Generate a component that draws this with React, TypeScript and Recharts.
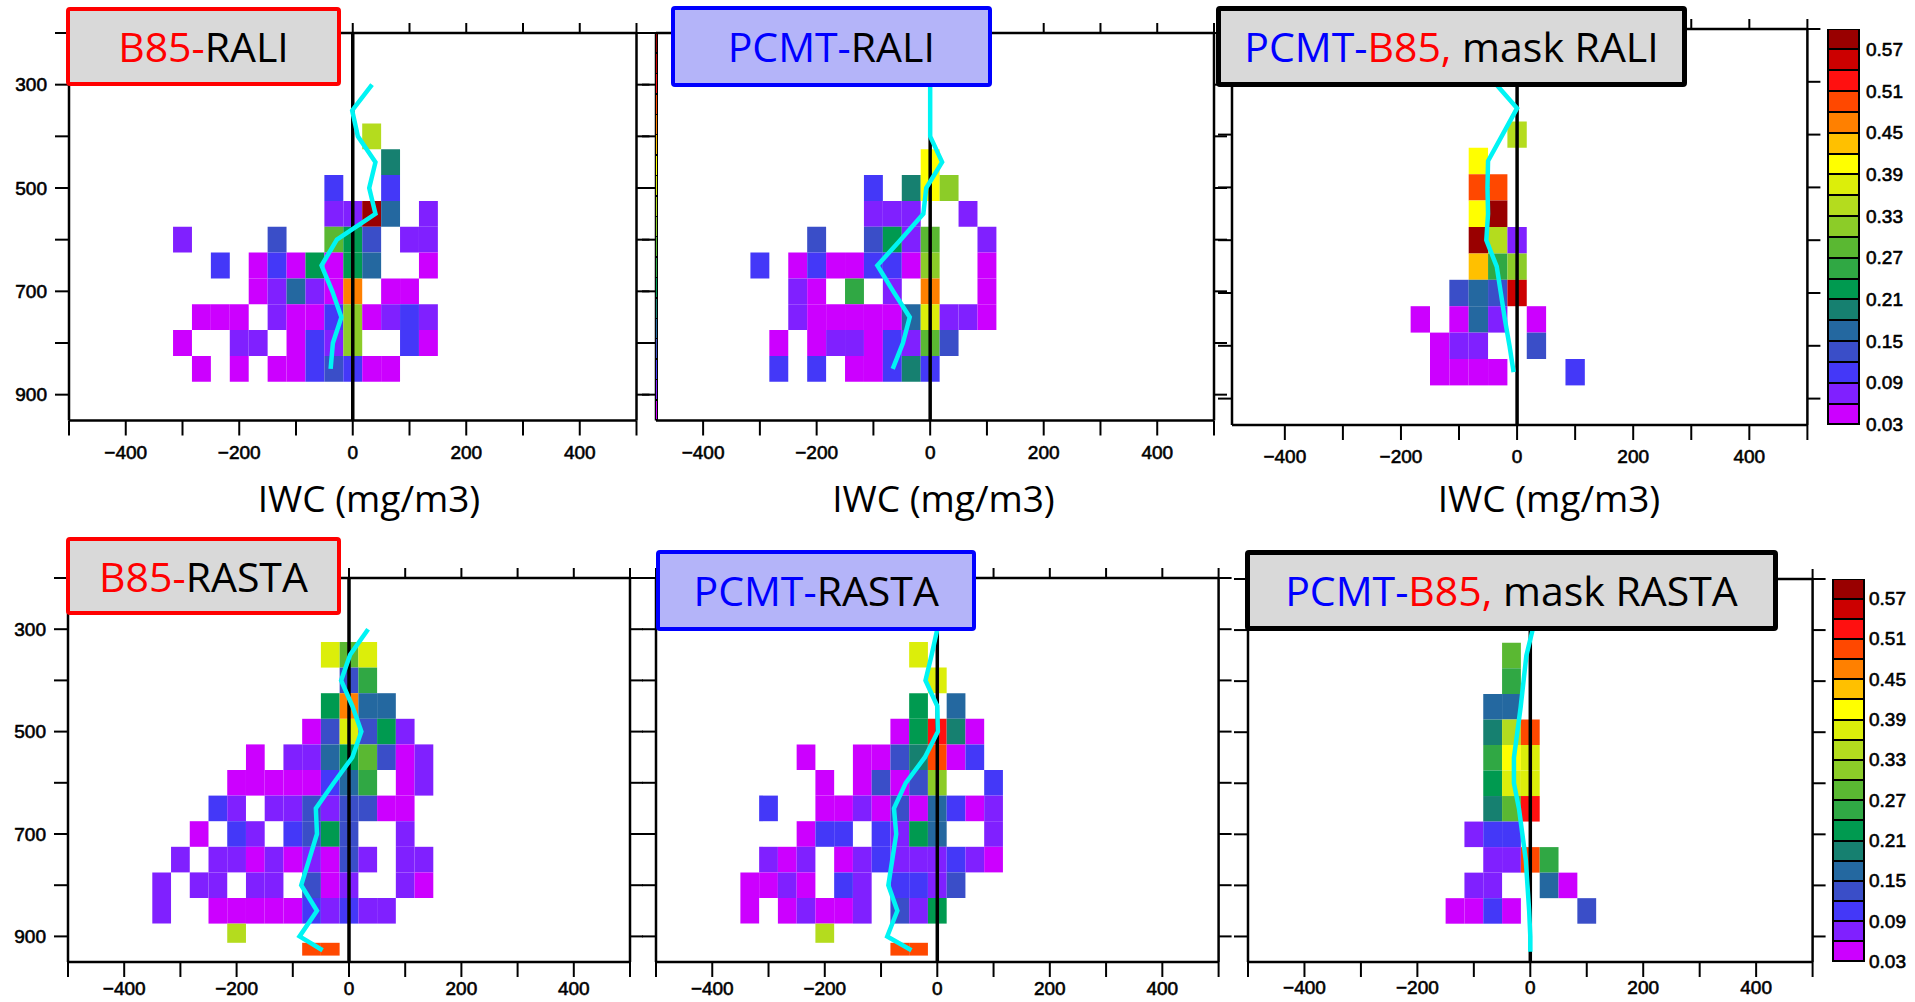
import React from 'react';
import { ScatterChart, Scatter, XAxis, YAxis, ReferenceArea, ReferenceLine } from 'recharts';

// ---------- colour scale ----------
const levelLabels = [0.03, 0.09, 0.15, 0.21, 0.27, 0.33, 0.39, 0.45, 0.51, 0.57];
const levelMin = 0.03;
const levelStep = 0.03;
const levelColors = [
  '#cc00ff', '#8020ff', '#4438f8', '#3a4ec8', '#2468a0', '#168070', '#009a50', '#30a844',
  '#5ab832', '#8ccc28', '#b4dc1e', '#dcee0a', '#ffff00', '#ffc000', '#ff8000', '#ff4800',
  '#ff1010', '#cc0000', '#990000',
];

// ---------- bins ----------
const iwcBinWidth = 100 / 3; // mg/m3
const pressureBins = [
  { p: 350, lo: 325, hi: 375 }, { p: 400, lo: 375, hi: 425 }, { p: 450, lo: 425, hi: 475 },
  { p: 500, lo: 475, hi: 525 }, { p: 550, lo: 525, hi: 575 }, { p: 600, lo: 575, hi: 625 },
  { p: 650, lo: 625, hi: 675 }, { p: 700, lo: 675, hi: 725 }, { p: 750, lo: 725, hi: 775 },
  { p: 800, lo: 775, hi: 825 }, { p: 850, lo: 825, hi: 875 }, { p: 894, lo: 875, hi: 912.5 },
  { p: 925, lo: 912.5, hi: 937.5 },
];
const xTicksAll = [-500, -400, -300, -200, -100, 0, 100, 200, 300, 400, 500];
const yTicksAll = [200, 300, 400, 500, 600, 700, 800, 900];
const yLabelTicks = [300, 500, 700, 900];

// ---------- cells: [iwc bin index, pressure bin centre, frequency] ----------
type Cell = [number, number, number];
const cellsB85Rali: Cell[] = [
  [1, 400, .34],
  [2, 450, .19],
  [-1, 500, .10], [2, 500, .10],
  [-1, 550, .07], [0, 550, .07], [1, 550, .58], [2, 550, .16], [4, 550, .07],
  [-9, 600, .07], [-4, 600, .13], [-1, 600, .28], [0, 600, .22], [1, 600, .13], [3, 600, .07], [4, 600, .07],
  [-7, 650, .10], [-5, 650, .04], [-4, 650, .10], [-3, 650, .04], [-2, 650, .22], [-1, 650, .04], [0, 650, .22], [1, 650, .16], [4, 650, .04],
  [-5, 700, .04], [-4, 700, .07], [-3, 700, .16], [-2, 700, .07], [-1, 700, .04], [0, 700, .46], [2, 700, .04], [3, 700, .04],
  [-8, 750, .04], [-7, 750, .04], [-6, 750, .04], [-4, 750, .07], [-3, 750, .04], [-2, 750, .04], [-1, 750, .10], [0, 750, .31], [1, 750, .04], [2, 750, .07], [3, 750, .10], [4, 750, .07],
  [-9, 800, .04], [-6, 800, .07], [-5, 800, .07], [-3, 800, .04], [-2, 800, .10], [-1, 800, .07], [0, 800, .31], [3, 800, .10], [4, 800, .04],
  [-8, 850, .04], [-6, 850, .04], [-4, 850, .04], [-3, 850, .04], [-2, 850, .10], [-1, 850, .13], [0, 850, .10], [1, 850, .04], [2, 850, .04],
];
const cellsPcmtRali: Cell[] = [
  [0, 450, .40],
  [-3, 500, .10], [-1, 500, .19], [0, 500, .40], [1, 500, .31],
  [-3, 550, .07], [-2, 550, .07], [-1, 550, .07], [2, 550, .07],
  [-6, 600, .13], [-3, 600, .13], [-2, 600, .22], [-1, 600, .07], [0, 600, .28], [3, 600, .07],
  [-9, 650, .10], [-7, 650, .04], [-6, 650, .10], [-5, 650, .04], [-4, 650, .04], [-3, 650, .10], [-2, 650, .10], [-1, 650, .04], [0, 650, .31], [3, 650, .04],
  [-7, 700, .07], [-6, 700, .04], [-4, 700, .25], [-2, 700, .07], [0, 700, .46], [3, 700, .04],
  [-7, 750, .07], [-6, 750, .04], [-5, 750, .04], [-4, 750, .04], [-3, 750, .04], [-2, 750, .04], [-1, 750, .16], [0, 750, .37], [1, 750, .07], [2, 750, .07], [3, 750, .04],
  [-8, 800, .04], [-6, 800, .04], [-5, 800, .07], [-4, 800, .07], [-3, 800, .04], [-2, 800, .10], [-1, 800, .07], [0, 800, .28], [1, 800, .13],
  [-8, 850, .10], [-6, 850, .10], [-4, 850, .04], [-3, 850, .04], [-2, 850, .10], [-1, 850, .19], [0, 850, .10],
];
const cellsDiffRali: Cell[] = [
  [0, 400, .34],
  [-2, 450, .40],
  [-2, 500, .49], [-1, 500, .49],
  [-2, 550, .40], [-1, 550, .58],
  [-2, 600, .58], [-1, 600, .34], [0, 600, .07],
  [-2, 650, .43], [-1, 650, .25], [0, 650, .31],
  [-3, 700, .13], [-2, 700, .16], [-1, 700, .13], [0, 700, .55],
  [-5, 750, .04], [-3, 750, .04], [-2, 750, .16], [-1, 750, .07], [1, 750, .04],
  [-4, 800, .04], [-3, 800, .07], [-2, 800, .07], [1, 800, .13],
  [-4, 850, .04], [-3, 850, .04], [-2, 850, .04], [-1, 850, .04], [3, 850, .10],
];
const cellsB85Rasta: Cell[] = [
  [-1, 350, .37], [0, 350, .28], [1, 350, .37],
  [0, 400, .13], [1, 400, .25],
  [-1, 450, .22], [0, 450, .46], [1, 450, .16], [2, 450, .16],
  [-2, 500, .04], [-1, 500, .13], [0, 500, .37], [1, 500, .13], [2, 500, .22], [3, 500, .07],
  [-5, 550, .04], [-3, 550, .07], [-2, 550, .07], [-1, 550, .16], [0, 550, .22], [1, 550, .28], [2, 550, .13], [3, 550, .04], [4, 550, .07],
  [-6, 600, .04], [-5, 600, .04], [-4, 600, .04], [-3, 600, .04], [-2, 600, .04], [-1, 600, .10], [0, 600, .16], [1, 600, .25], [3, 600, .04], [4, 600, .07],
  [-7, 650, .10], [-6, 650, .07], [-4, 650, .07], [-3, 650, .07], [-2, 650, .13], [-1, 650, .07], [0, 650, .13], [1, 650, .13], [2, 650, .04], [3, 650, .04],
  [-8, 700, .04], [-6, 700, .10], [-5, 700, .07], [-3, 700, .10], [-2, 700, .13], [-1, 700, .22], [0, 700, .13], [3, 700, .07],
  [-9, 750, .07], [-7, 750, .07], [-6, 750, .07], [-5, 750, .04], [-4, 750, .07], [-3, 750, .04], [-2, 750, .07], [-1, 750, .04], [0, 750, .13], [1, 750, .07], [3, 750, .07], [4, 750, .07],
  [-10, 800, .07], [-8, 800, .07], [-7, 800, .07], [-5, 800, .07], [-4, 800, .07], [-2, 800, .13], [-1, 800, .04], [0, 800, .07], [3, 800, .07], [4, 800, .04],
  [-10, 850, .07], [-7, 850, .04], [-6, 850, .04], [-5, 850, .04], [-4, 850, .04], [-3, 850, .04], [-2, 850, .10], [-1, 850, .07], [0, 850, .10], [1, 850, .07], [2, 850, .07],
  [-6, 894, .34],
  [-2, 925, .49], [-1, 925, .49],
];
const cellsPcmtRasta: Cell[] = [
  [-1, 350, .37],
  [0, 400, .37],
  [-1, 450, .22], [1, 450, .16],
  [-2, 500, .04], [-1, 500, .22], [0, 500, .52], [1, 500, .19], [2, 500, .04],
  [-7, 550, .04], [-4, 550, .04], [-3, 550, .04], [-2, 550, .13], [-1, 550, .19], [0, 550, .49], [1, 550, .04], [2, 550, .10],
  [-6, 600, .04], [-4, 600, .04], [-3, 600, .13], [-2, 600, .04], [-1, 600, .13], [0, 600, .31], [3, 600, .10],
  [-9, 650, .10], [-6, 650, .04], [-5, 650, .04], [-4, 650, .07], [-3, 650, .04], [-2, 650, .13], [-1, 650, .04], [0, 650, .16], [1, 650, .10], [2, 650, .04], [3, 650, .07],
  [-7, 700, .04], [-6, 700, .10], [-5, 700, .10], [-3, 700, .10], [-2, 700, .07], [-1, 700, .22], [0, 700, .16], [3, 700, .07],
  [-9, 750, .07], [-8, 750, .04], [-7, 750, .07], [-5, 750, .04], [-4, 750, .07], [-3, 750, .10], [-2, 750, .07], [-1, 750, .07], [0, 750, .07], [1, 750, .10], [2, 750, .07], [3, 750, .04],
  [-10, 800, .04], [-9, 800, .04], [-8, 800, .07], [-7, 800, .04], [-5, 800, .10], [-4, 800, .07], [-2, 800, .10], [-1, 800, .10], [0, 800, .07], [1, 800, .13],
  [-10, 850, .04], [-8, 850, .04], [-7, 850, .07], [-6, 850, .04], [-5, 850, .04], [-4, 850, .07], [-2, 850, .13], [-1, 850, .07], [0, 850, .22],
  [-6, 894, .34],
  [-2, 925, .49], [-1, 925, .49],
];
const cellsDiffRasta: Cell[] = [
  [-1, 350, .28],
  [-1, 400, .25],
  [-2, 450, .16], [-1, 450, .16],
  [-2, 500, .19], [-1, 500, .34], [0, 500, .49],
  [-2, 550, .25], [-1, 550, .40], [0, 550, .37],
  [-2, 600, .22], [-1, 600, .37], [0, 600, .37],
  [-2, 650, .19], [-1, 650, .28], [0, 650, .52],
  [-3, 700, .07], [-2, 700, .10], [-1, 700, .10],
  [-2, 750, .07], [-1, 750, .07], [0, 750, .49], [1, 750, .25],
  [-3, 800, .07], [-2, 800, .07], [1, 800, .16], [2, 800, .04],
  [-4, 850, .04], [-3, 850, .04], [-2, 850, .10], [-1, 850, .04], [3, 850, .13],
];

// ---------- mean profiles (cyan) ----------
const raliPressure = [300, 350, 400, 450, 500, 550, 600, 650, 700, 750, 800, 850];
const b85RaliProfile = [34, -1, 9, 40, 29, 40, -28, -55, -36, -20, -35, -39];
const pcmtRaliProfile = [0, 0, 0, 21, -7, -12, -52, -93, -65, -36, -48, -66];
const diffRaliProfile = [-40, 0, -25, -50, -51, -50, -53, -35, -28, -21, -13, -6];
const rastaPressure = [300, 350, 400, 450, 500, 550, 600, 650, 700, 750, 800, 850, 900, 927];
const b85RastaProfile = [34, 2, -14, 6, 22, 6, -27, -59, -57, -71, -85, -57, -88, -47];
const pcmtRastaProfile = [0, -10, -21, 0, 1, -22, -56, -77, -73, -80, -87, -71, -89, -46];
const diffRastaPressure = [300, 350, 400, 450, 500, 550, 600, 650, 700, 750, 800, 850, 900, 930];
const diffRastaProfile = [4, -7, -12, -17, -23, -29, -29, -20, -14, -8, -5, -2, 0, 0];

// ---------- styles ----------
const FONT_NUM = '"Liberation Sans", Arial, Helvetica, sans-serif';
const FONT_TXT = '"Open Sans", "Noto Sans", sans-serif';
const RED = '#ff0000';
const BLUE = '#0000ff';
const AXL = { stroke: '#000', strokeWidth: 2.5 };
const TKL = { stroke: '#000', strokeWidth: 2 };
const TICKFONT = { fill: '#000', fontSize: 19, fontFamily: FONT_NUM, stroke: '#000', strokeWidth: 0.6 };

function colorOf(v: number) {
  let i = Math.floor((v - levelMin) / levelStep + 1e-9);
  if (i < 0) i = 0;
  if (i > levelColors.length - 1) i = levelColors.length - 1;
  return levelColors[i];
}
function binOf(p: number) {
  return pressureBins.find((b) => b.p === p)!;
}
function fmtMinus(v: number) {
  return v < 0 ? '\u2212' + Math.abs(v) : String(v);
}

type Rect = { x: number; y: number; w: number; h: number };
type PanelCfg = {
  rect: Rect;
  domain: [number, number];
  cells: Cell[];
  profP: number[];
  profX: number[];
  yLabels: boolean;
  xMargin: number;
};

const panels: PanelCfg[] = [
  { rect: { x: 68.6, y: 32.5, w: 567.5, h: 387.5 }, domain: [-500, 500], cells: cellsB85Rali, profP: raliPressure, profX: b85RaliProfile, yLabels: true, xMargin: 10 },
  { rect: { x: 655.6, y: 32.5, w: 558, h: 387.5 }, domain: [-483, 500], cells: cellsPcmtRali, profP: raliPressure, profX: pcmtRaliProfile, yLabels: false, xMargin: 10 },
  { rect: { x: 1232, y: 29, w: 575.4, h: 396 }, domain: [-491, 500], cells: cellsDiffRali, profP: raliPressure, profX: diffRaliProfile, yLabels: false, xMargin: 10 },
  { rect: { x: 68.4, y: 578, w: 562, h: 384 }, domain: [-500, 500], cells: cellsB85Rasta, profP: rastaPressure, profX: b85RastaProfile, yLabels: true, xMargin: 5 },
  { rect: { x: 656, y: 578, w: 562.6, h: 384 }, domain: [-500, 500], cells: cellsPcmtRasta, profP: rastaPressure, profX: pcmtRastaProfile, yLabels: false, xMargin: 5 },
  { rect: { x: 1248, y: 579, w: 564.6, h: 383 }, domain: [-500, 500], cells: cellsDiffRasta, profP: diffRastaPressure, profX: diffRastaProfile, yLabels: false, xMargin: 4 },
];

const EmptyShape = () => <g />;

function Panel({ cfg }: { cfg: PanelCfg }) {
  const ML = 70, MR = 70, MT = 40, MB = 60;
  const xt = xTicksAll.filter((t) => t >= cfg.domain[0] && t <= cfg.domain[1]);
  const profile = cfg.profP.map((p, i) => ({ x: cfg.profX[i], p }));
  return (
    <div style={{ position: 'absolute', left: cfg.rect.x - ML, top: cfg.rect.y - MT }}>
      <ScatterChart width={cfg.rect.w + ML + MR} height={cfg.rect.h + MT + MB} margin={{ top: 0, right: 0, bottom: 0, left: 0 }}>
        <XAxis xAxisId="b" type="number" dataKey="x" domain={cfg.domain} allowDataOverflow ticks={xt} interval={0}
          orientation="bottom" height={MB} tickSize={15} tickMargin={cfg.xMargin}
          tickFormatter={(v: number) => (v % 200 === 0 ? fmtMinus(v) : '')}
          axisLine={AXL} tickLine={TKL} tick={TICKFONT} />
        <XAxis xAxisId="t" type="number" dataKey="x" domain={cfg.domain} allowDataOverflow ticks={xt} interval={0}
          orientation="top" height={MT} tickSize={10} tickFormatter={() => ''}
          axisLine={AXL} tickLine={TKL} tick={TICKFONT} />
        <YAxis yAxisId="l" type="number" dataKey="p" domain={[200, 950]} allowDataOverflow reversed ticks={yTicksAll} interval={0}
          orientation="left" width={ML} tickSize={14} tickMargin={8}
          tickFormatter={(v: number) => (cfg.yLabels && yLabelTicks.includes(v) ? String(v) : '')}
          axisLine={AXL} tickLine={TKL} tick={TICKFONT} />
        <YAxis yAxisId="r" type="number" dataKey="p" domain={[200, 950]} allowDataOverflow reversed ticks={yTicksAll} interval={0}
          orientation="right" width={MR} tickSize={13} tickFormatter={() => ''}
          axisLine={AXL} tickLine={TKL} tick={TICKFONT} />
        {cfg.cells.map(([k, p, v], i) => {
          const b = binOf(p);
          return (
            <ReferenceArea key={i} xAxisId="b" yAxisId="l" x1={(k - 0.5) * iwcBinWidth} x2={(k + 0.5) * iwcBinWidth}
              y1={b.lo} y2={b.hi} fill={colorOf(v)} fillOpacity={1} stroke="none" ifOverflow="hidden" />
          );
        })}
        <ReferenceLine xAxisId="b" yAxisId="l" x={0} stroke="#000" strokeWidth={3.5} />
        <Scatter xAxisId="t" yAxisId="r" data={profile} shape={EmptyShape} isAnimationActive={false} />
        <Scatter xAxisId="b" yAxisId="l" data={profile} shape={EmptyShape}
          line={{ stroke: '#00f4f4', strokeWidth: 4.5 }} isAnimationActive={false} />
      </ScatterChart>
    </div>
  );
}

type Part = { t: string; c: string };
type BoxCfg = { x: number; y: number; w: number; h: number; border: string; bw: number; bg: string; parts: Part[] };
const boxes: BoxCfg[] = [
  { x: 66.3, y: 6.7, w: 274.4, h: 79.3, border: RED, bw: 4, bg: '#d9d9d9', parts: [{ t: 'B85-', c: RED }, { t: 'RALI', c: '#000' }] },
  { x: 671, y: 6, w: 320.6, h: 81.3, border: BLUE, bw: 4.5, bg: '#b4b4f9', parts: [{ t: 'PCMT-', c: BLUE }, { t: 'RALI', c: '#000' }] },
  { x: 1216, y: 6, w: 471, h: 81.3, border: '#000', bw: 5, bg: '#d9d9d9', parts: [{ t: 'PCMT-', c: BLUE }, { t: 'B85,', c: RED }, { t: ' mask RALI', c: '#000' }] },
  { x: 66.3, y: 537, w: 274.4, h: 78, border: RED, bw: 4, bg: '#d9d9d9', parts: [{ t: 'B85-', c: RED }, { t: 'RASTA', c: '#000' }] },
  { x: 656, y: 550, w: 320.4, h: 80.7, border: BLUE, bw: 4.5, bg: '#b4b4f9', parts: [{ t: 'PCMT-', c: BLUE }, { t: 'RASTA', c: '#000' }] },
  { x: 1245.3, y: 550, w: 532.3, h: 80.7, border: '#000', bw: 5, bg: '#d9d9d9', parts: [{ t: 'PCMT-', c: BLUE }, { t: 'B85,', c: RED }, { t: ' mask RASTA', c: '#000' }] },
];

const titles = [
  { cx: 369, baseline: 511.7, text: 'IWC (mg/m3)' },
  { cx: 943.5, baseline: 511.7, text: 'IWC (mg/m3)' },
  { cx: 1549, baseline: 511.7, text: 'IWC (mg/m3)' },
];

const colorbars = [
  { x: 1827, y: 29, w: 33, h: 396, labelX: 1866 },
  { x: 1831.6, y: 579, w: 33.3, h: 383, labelX: 1869 },
];

function ColorBar({ cb }: { cb: { x: number; y: number; w: number; h: number; labelX: number } }) {
  const n = levelColors.length;
  const bh = cb.h / n;
  const rev = [...levelColors].reverse();
  return (
    <>
      <div style={{ position: 'absolute', left: cb.x, top: cb.y, width: cb.w, height: cb.h, border: '1.5px solid #000', boxSizing: 'border-box' }}>
        {rev.map((c, i) => (
          <div key={i} style={{ position: 'absolute', left: 0, right: 0, top: i * bh - 1.5, height: bh, background: c, border: '1.5px solid #000', boxSizing: 'border-box' }} />
        ))}
      </div>
      {levelLabels.map((l, i) => (
        <div key={i} style={{ position: 'absolute', left: cb.labelX, top: cb.y + cb.h - i * 2 * bh - 11, height: 22, lineHeight: '22px', fontFamily: FONT_NUM, fontSize: 19, color: '#000', WebkitTextStroke: '0.6px #000' }}>
          {l.toFixed(2)}
        </div>
      ))}
    </>
  );
}

function LeftStrip() {
  // thin squeezed colour strip on the left frame of the PCMT-RALI panel
  const top = 32.5, h = 387.5, n = levelColors.length;
  const rev = [...levelColors].reverse();
  return (
    <div style={{ position: 'absolute', left: 654.6, top, width: 3, height: h, background: '#000' }}>
      {rev.map((c, i) => (
        <div key={i} style={{ position: 'absolute', left: 1, width: 1.6, top: i * (h / n) + 1, height: h / n - 1.5, background: c }} />
      ))}
    </div>
  );
}

export default function App() {
  return (
    <div style={{ position: 'absolute', left: 0, top: 0, width: 1915, height: 1002, background: '#fff', overflow: 'hidden' }}>
      {panels.map((p, i) => <Panel key={i} cfg={p} />)}
      <LeftStrip />
      {boxes.map((b, i) => (
        <div key={i} style={{ position: 'absolute', left: b.x, top: b.y, width: b.w, height: b.h, boxSizing: 'border-box', border: `${b.bw}px solid ${b.border}`, background: b.bg, borderRadius: 4, display: 'flex', alignItems: 'center', justifyContent: 'center', fontFamily: FONT_TXT, fontSize: 41, lineHeight: 1, whiteSpace: 'pre' }}>
          {b.parts.map((pt, j) => <span key={j} style={{ color: pt.c }}>{pt.t}</span>)}
        </div>
      ))}
      {titles.map((t, i) => (
        <div key={i} style={{ position: 'absolute', left: t.cx - 200, width: 400, top: t.baseline - 0.888 * 37, textAlign: 'center', fontFamily: FONT_TXT, fontSize: 37, lineHeight: 1, color: '#000', whiteSpace: 'pre' }}>
          {t.text}
        </div>
      ))}
      {colorbars.map((cb, i) => <ColorBar key={i} cb={cb} />)}
    </div>
  );
}
